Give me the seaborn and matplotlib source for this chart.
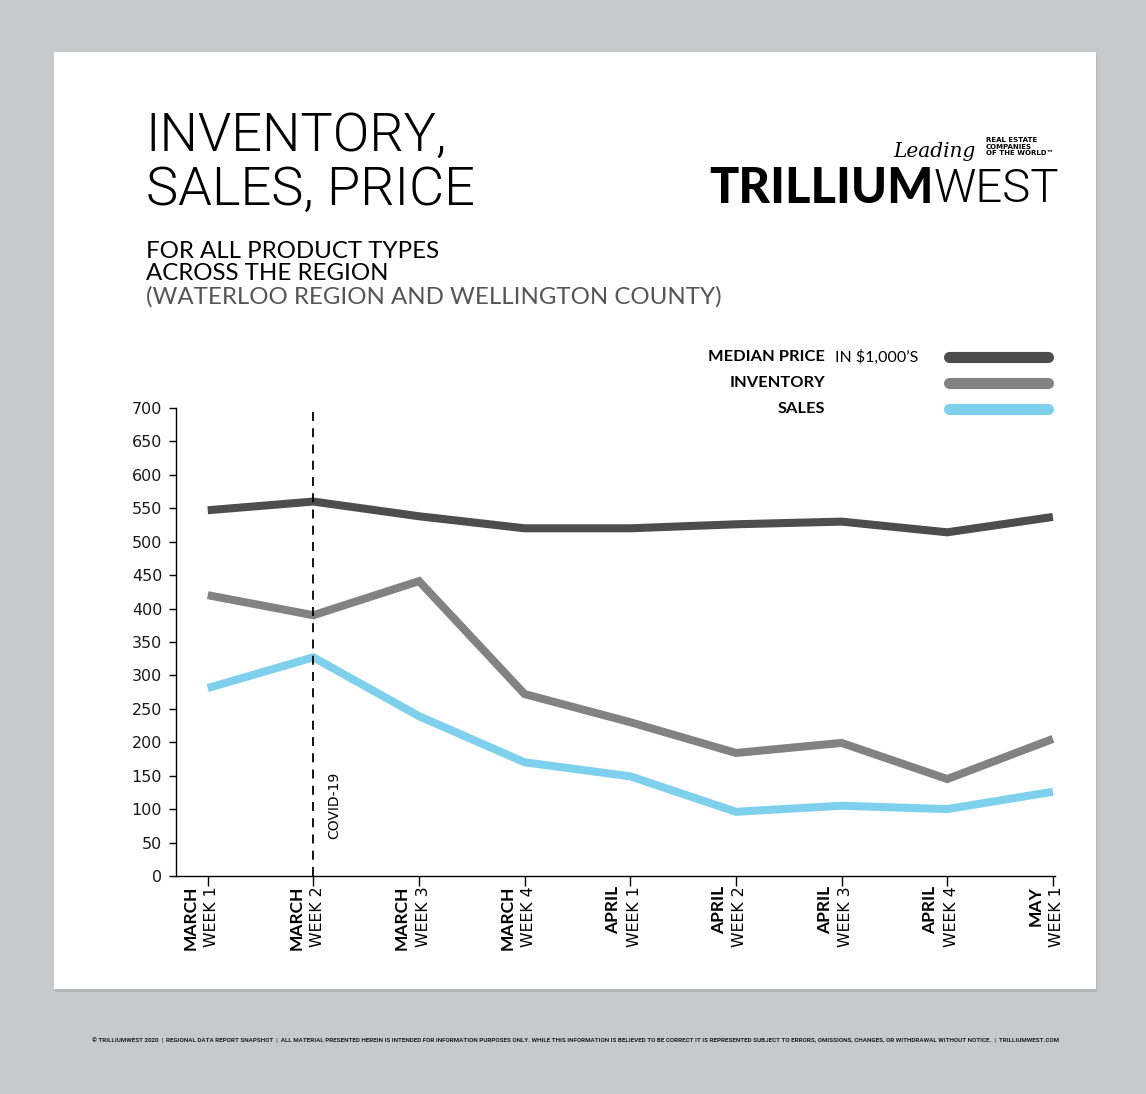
import matplotlib
matplotlib.use("Agg")
import matplotlib.pyplot as plt
import matplotlib.transforms as mtrans
from matplotlib.patches import Rectangle
from matplotlib.lines import Line2D
import pandas as pd
import seaborn as sns

# Data
months = ["MARCH", "MARCH", "MARCH", "MARCH", "APRIL", "APRIL", "APRIL", "APRIL", "MAY"]
weeks = ["WEEK 1", "WEEK 2", "WEEK 3", "WEEK 4", "WEEK 1", "WEEK 2", "WEEK 3", "WEEK 4", "WEEK 1"]
median_price = [547, 560, 538, 520, 520, 526, 530, 514, 537]
inventory = [420, 390, 441, 272, 230, 184, 199, 145, 205]
sales = [281, 327, 239, 170, 149, 96, 105, 100, 126]
series_names = ["MEDIAN PRICE", "INVENTORY", "SALES"]
colors = ["#4d4d4d", "#828282", "#7fd0ec"]
covid_week = 1

df = pd.DataFrame({
    "week": list(range(len(months))) * 3,
    "value": median_price + inventory + sales,
    "series": [s for s in series_names for _ in months],
})

sns.set_style("white")
plt.rcParams["font.family"] = ["Lato", "DejaVu Sans"]

fig = plt.figure(figsize=(11.46, 10.94), dpi=100, facecolor="#c8c9cb")

# white card with soft shadow
fig.patches.append(Rectangle((0.0481, 0.0930), 0.9093, 0.8565, transform=fig.transFigure,
                             facecolor="#a9aaac", edgecolor="none", zorder=-3, alpha=0.6))
fig.patches.append(Rectangle((0.0471, 0.0960), 0.9093, 0.8565, transform=fig.transFigure,
                             facecolor="white", edgecolor="none", zorder=-2))

ax = fig.add_axes([0.1536, 0.1993, 0.767, 0.4278])
ax.set_facecolor("none")
ax.set_zorder(1)

sns.lineplot(data=df, x="week", y="value", hue="series", palette=dict(zip(series_names, colors)),
             linewidth=5.8, legend=False, ax=ax, zorder=3)
for ln in ax.lines:
    ln.set_solid_capstyle("butt")
    ln.set_solid_joinstyle("miter")

ax.axvline(covid_week, color="black", linestyle=(0, (5, 4)), linewidth=1.3, zorder=4)
ax.text(covid_week + 0.2, 105, "COVID-19", rotation=90, ha="center", va="center",
        fontsize=10, color="black", family=["DejaVu Sans"])

ax.set_xlim(-0.30, 8.02)
ax.set_ylim(0, 700)
ax.set_yticks(range(0, 701, 50))
ax.set_xticks(range(len(months)))
ax.set_xticklabels([])
ax.set_xlabel("")
ax.set_ylabel("")
ax.tick_params(axis="y", direction="out", length=5, width=1, color="black",
               labelsize=11.5, labelcolor="#1a1a1a", pad=5, left=True)
ax.tick_params(axis="x", direction="out", length=7, width=1, color="black", bottom=True)
for lab in ax.get_yticklabels():
    lab.set_family(["DejaVu Sans"])
for side in ["top", "right"]:
    ax.spines[side].set_visible(False)
for side in ["left", "bottom"]:
    ax.spines[side].set_color("black")
    ax.spines[side].set_linewidth(1)

# two-part rotated x labels
for i, (m, w) in enumerate(zip(months, weeks)):
    t1 = ax.get_xaxis_transform() + mtrans.ScaledTranslation(-17 / 100, -10 / 100, fig.dpi_scale_trans)
    t2 = ax.get_xaxis_transform() + mtrans.ScaledTranslation(4 / 100, -10 / 100, fig.dpi_scale_trans)
    ax.text(i, 0, m, transform=t1, rotation=90, ha="center", va="top",
            fontsize=12.5, fontweight="bold", color="black")
    ax.text(i, 0, w, transform=t2, rotation=90, ha="center", va="top",
            fontsize=11.3, color="black", family=["DejaVu Sans"])

# legend drawn by hand, labels right-aligned left of the swatches
legend_y = [0.6737, 0.6499, 0.6261]
for name, col, y in zip(series_names, colors, legend_y):
    fig.text(0.720, y, name, ha="right", va="center", fontsize=11.8, fontweight="bold", color="black")
    fig.lines.append(Line2D([0.8277, 0.9141], [y, y], transform=fig.transFigure,
                            color=col, linewidth=8, solid_capstyle="round"))
fig.text(0.729, legend_y[0], "IN $1,000\u2019S", ha="left", va="center", fontsize=11.5, color="black")

# titles
fig.text(0.127, 0.803, "INVENTORY,\nSALES, PRICE", ha="left", va="bottom", fontsize=39,
         fontweight=300, color="black", linespacing=1.05, family=["Roboto", "Lato"])
fig.text(0.127, 0.7405, "FOR ALL PRODUCT TYPES\nACROSS THE REGION", ha="left", va="bottom",
         fontsize=17.3, color="black", linespacing=1.08)
fig.text(0.127, 0.719, "(WATERLOO REGION AND WELLINGTON COUNTY)", ha="left", va="bottom",
         fontsize=17.3, color="#555555")

# logo
fig.text(0.851, 0.853, "Leading", ha="right", va="bottom", fontsize=14.5, style="italic",
         family=["DejaVu Serif"], color="black")
fig.text(0.860, 0.857, "REAL ESTATE\nCOMPANIES\nOF THE WORLD\u2122", ha="left", va="bottom",
         fontsize=5, fontweight="bold", color="black", linespacing=1.1, family=["DejaVu Sans"])
trill = fig.text(0.619, 0.8075, "TRILLIUM", ha="left", va="bottom", fontsize=35, fontweight="black",
                 color="black")
ax.annotate("WEST", xy=(1, 0), xycoords=trill, xytext=(0, 0), textcoords="offset points",
            ha="left", va="bottom", fontsize=34, fontweight=300, color="black",
            annotation_clip=False, family=["Roboto", "Lato"])

# footer
fig.text(0.0805, 0.049,
         "\u00a9 TRILLIUMWEST 2020  |  REGIONAL DATA REPORT SNAPSHOT  |  ALL MATERIAL PRESENTED HEREIN IS "
         "INTENDED FOR INFORMATION PURPOSES ONLY. WHILE THIS INFORMATION IS BELIEVED TO BE CORRECT IT IS "
         "REPRESENTED SUBJECT TO ERRORS, OMISSIONS, CHANGES, OR WITHDRAWAL WITHOUT NOTICE.  |  TRILLIUMWEST.COM",
         ha="left", va="center", fontsize=4.47, fontweight="bold", color="#222222",
         family=["Roboto", "DejaVu Sans"])

fig.savefig("out.png", dpi=100, facecolor=fig.get_facecolor())
